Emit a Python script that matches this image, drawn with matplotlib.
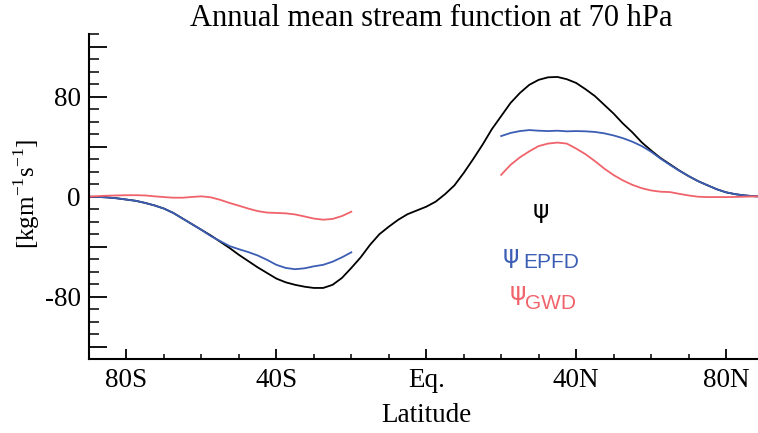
import matplotlib
matplotlib.use("Agg")
import matplotlib.pyplot as plt
from matplotlib.ticker import FixedLocator, FuncFormatter

# ---------------- data ----------------
lat_full = [-90, -87.5, -85, -82.5, -80, -77.5, -75, -72.5, -70, -67.5, -65, -62.5, -60,
            -57.5, -55, -52.5, -50, -47.5, -45, -42.5, -40, -37.5, -35, -32.5, -30,
            -27.5, -25, -22.5, -20, -17.5, -15, -12.5, -10, -7.5, -5, -2.5, 0,
            2.5, 5, 7.5, 10, 12.5, 15, 17.5, 20, 22.5, 25, 27.5, 30, 32.5, 35,
            37.5, 40, 42.5, 45, 47.5, 50, 52.5, 55, 57.5, 60, 62.5, 65, 67.5, 70,
            72.5, 75, 77.5, 80, 82.5, 85, 87.5, 90]
psi = [0, -0.2, -0.6, -1.3, -2.3, -3.3, -5, -7, -9.5, -13, -17.5, -22, -26.5,
       -31, -36, -41, -46.5, -51.5, -56.5, -61, -65.5, -68.5, -70.5, -72, -73,
       -73, -70.5, -65, -57, -48.5, -38.5, -30, -24, -18.5, -14, -11, -8,
       -4, 2, 9, 19, 30, 41.5, 54, 64.5, 75, 83, 89.5, 93.5, 95.5, 95.8,
       94, 91, 86, 80.5, 73.5, 66.5, 58.5, 51.5, 43.5, 37, 31, 26, 21, 16.5,
       12.5, 9.2, 6, 3.5, 2, 1, 0.4, 0]

lat_sh = [-90, -87.5, -85, -82.5, -80, -77.5, -75, -72.5, -70, -67.5, -65, -62.5, -60,
          -57.5, -55, -52.5, -50, -47.5, -45, -42.5, -40, -37.5, -35, -32.5, -30,
          -27.5, -25, -22.5, -20]
lat_nh = [20, 22.5, 25, 27.5, 30, 32.5, 35, 37.5, 40, 42.5, 45, 47.5, 50, 52.5, 55,
          57.5, 60, 62.5, 65, 67.5, 70, 72.5, 75, 77.5, 80, 82.5, 85, 87.5, 90]

epfd_sh = [0, -0.2, -0.6, -1.3, -2.3, -3.3, -5, -7, -9.5, -13, -17.5, -22, -26.5,
           -31.5, -35.5, -39.5, -42, -44.3, -47, -50.5, -54.5, -57, -58, -57.3, -55.7,
           -54.5, -52, -48.5, -44.5]
epfd_nh = [48.5, 51, 52.5, 53.3, 52.8, 52.5, 52.8, 52.3, 52.5, 52.3, 51.8, 50.7, 49,
           46.8, 44, 40.5, 36, 30.5, 25.5, 20.8, 16.5, 12.5, 9.2, 6, 3.5, 2, 1, 0.4, 0]

gwd_sh = [0, 0.5, 0.8, 1, 1.2, 1.2, 1, 0.3, -0.3, -0.8, -0.8, -0.2, 0.3,
          -0.5, -2.5, -5, -7.2, -9.5, -11.5, -12.7, -13, -13.3, -14.2, -15.8, -17.5,
          -18.4, -17.8, -15.5, -12]
gwd_nh = [17.5, 25.5, 31.5, 36.3, 40.5, 42.5, 43.3, 42.5, 38.5, 34, 28.5, 22.5, 17.3,
          13, 9.5, 6.8, 5, 4, 3.7, 2.3, 1, 0, -0.3, -0.3, -0.3, -0.2, 0, 0.2, 0.3]

xtick_pos = [-80, -40, 0, 40, 80]
xtick_lab = ["80S", "40S", "Eq.", "40N", "80N"]
ytick_major = [-120, -80, -40, 0, 40, 80, 120]
ytick_labeled = {-80: "-80", 0: "0", 80: "80"}

BLACK = "#000000"
BLUE = "#3b5db3"
RED = "#f0636b"

plt.rcParams['font.family'] = ['Liberation Serif', 'DejaVu Serif']
plt.rcParams['mathtext.fontset'] = 'custom'
plt.rcParams['mathtext.rm'] = 'Liberation Serif'

fig = plt.figure(figsize=(7.58, 4.33), dpi=100)
ax = fig.add_axes([89 / 758, 1 - 359.2 / 433, 674.5 / 758, (359.2 - 34.2) / 433])

lw = 1.3
ax.plot(lat_full, psi, color=BLACK, lw=lw)
ax.plot(lat_sh, epfd_sh, color=BLUE, lw=lw)
ax.plot(lat_nh, epfd_nh, color=BLUE, lw=lw)
ax.plot(lat_sh, gwd_sh, color=RED, lw=lw)
ax.plot(lat_nh, gwd_nh, color=RED, lw=lw)

ax.set_xlim(-90, 90)
ax.set_ylim(-130, 130)

for s in ["top", "right"]:
    ax.spines[s].set_visible(False)
for s in ["left", "bottom"]:
    ax.spines[s].set_linewidth(1.5)

ax.xaxis.set_major_locator(FixedLocator(xtick_pos))
ax.set_xticklabels(xtick_lab)
ax.xaxis.set_minor_locator(FixedLocator(list(range(-90, 91, 10))))
ax.yaxis.set_major_locator(FixedLocator(ytick_major))
ax.yaxis.set_major_formatter(FuncFormatter(lambda v, p: ytick_labeled.get(int(round(v)), "")))
ax.yaxis.set_minor_locator(FixedLocator(list(range(-130, 131, 10))))

ax.tick_params(axis="x", which="major", direction="in", length=7.2, width=1.3,
               labelsize=19.5, pad=6)
ax.tick_params(axis="x", which="minor", direction="in", length=3.3, width=1.1)
ax.tick_params(axis="y", which="major", direction="in", length=13, width=1.3,
               labelsize=19.5, pad=6)
ax.tick_params(axis="y", which="minor", direction="in", length=7.2, width=1.1)

ax.set_xlabel("Latitude", fontsize=19.5)
ax.xaxis.set_label_coords(0.5, (359.2 - 415) / 325)
ax.xaxis.label.set_va("center")
ax.set_ylabel(r"[kgm$^{\mathrm{-1}}$s$^{\mathrm{-1}}$]", fontsize=18)
ax.yaxis.set_label_coords((27 - 89) / 674.5, (359.2 - 194) / 325)
ax.yaxis.label.set_va("center")
fig.text(431 / 758, 1 - 18 / 433, "Annual mean stream function at 70 hPa",
         ha="center", va="center", fontsize=22)

# legend-like labels
psi_font = ["DejaVu Sans"]
sub_font = ["Liberation Sans", "DejaVu Sans"]
ax.text(30.7, -11.7, "ψ", color=BLACK, fontsize=18, ha="center", va="center", family=psi_font)
ax.text(22.7, -47.7, "ψ", color=BLUE, fontsize=18, ha="center", va="center", family=psi_font)
ax.text(26.0, -52.5, "EPFD", color=BLUE, fontsize=15, ha="left", va="center", family=sub_font)
ax.text(24.4, -77, "ψ", color=RED, fontsize=18, ha="center", va="center", family=psi_font)
ax.text(26.4, -85.5, "GWD", color=RED, fontsize=15, ha="left", va="center", family=sub_font)

fig.savefig("out.png", dpi=100)
